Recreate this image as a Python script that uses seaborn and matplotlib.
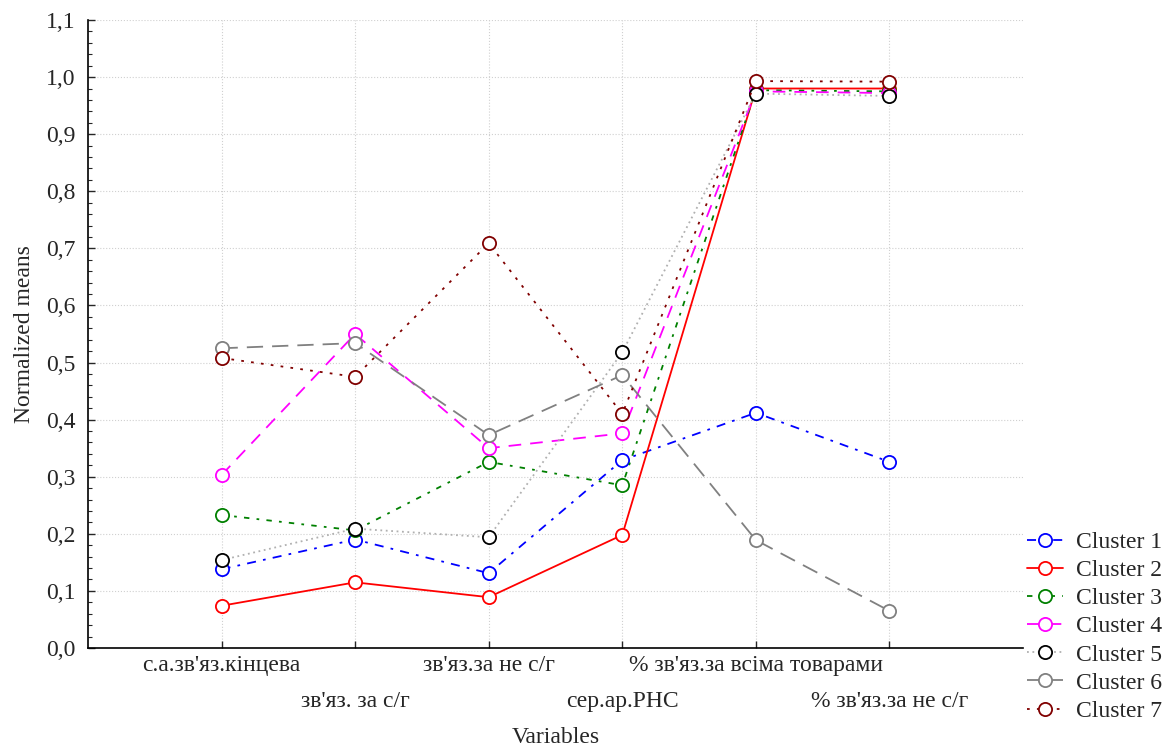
import matplotlib
matplotlib.use("Agg")
import matplotlib.pyplot as plt
from matplotlib.ticker import FuncFormatter, MultipleLocator
import seaborn as sns
import pandas as pd

variables = ["с.а.зв'яз.кінцева", "зв'яз. за с/г", "зв'яз.за не с/г",
             "сер.ар.РНС", "% зв'яз.за всіма товарами", "% зв'яз.за не с/г"]
clusters = ["Cluster 1", "Cluster 2", "Cluster 3", "Cluster 4",
            "Cluster 5", "Cluster 6", "Cluster 7"]
cluster1 = [0.138, 0.190, 0.131, 0.329, 0.412, 0.326]
cluster2 = [0.074, 0.115, 0.089, 0.198, 0.980, 0.980]
cluster3 = [0.233, 0.206, 0.326, 0.285, 0.977, 0.975]
cluster4 = [0.303, 0.550, 0.350, 0.376, 0.975, 0.972]
cluster5 = [0.154, 0.209, 0.194, 0.518, 0.971, 0.967]
cluster6 = [0.525, 0.534, 0.373, 0.478, 0.189, 0.065]
cluster7 = [0.508, 0.475, 0.709, 0.410, 0.993, 0.992]
values = [cluster1, cluster2, cluster3, cluster4, cluster5, cluster6, cluster7]

sns.set_theme(style="white")
plt.rcParams['font.family'] = ['Liberation Serif', 'DejaVu Serif']

line_colors = ["#0000ff", "#ff0000", "#008000", "#ff00ff", "#b0b0b0", "#808080", "#800000"]
edge_colors = ["#0000ff", "#ff0000", "#008000", "#ff00ff", "#000000", "#808080", "#800000"]
styles = [(0, (5, 4, 1.5, 4)), "-", (0, (3, 4, 1.5, 4)), (0, (7, 5)),
          (0, (1, 2)), (0, (9, 5)), (0, (1.5, 4))]

FS = 17

fig = plt.figure(figsize=(11.7, 7.51), dpi=100)
ax = fig.add_axes([88/1170, 1-648/751, (1023-88)/1170, (648-20)/751])

for name, vals, lc, ec, ls in zip(clusters, values, line_colors, edge_colors, styles):
    df = pd.DataFrame({"Variables": variables, "value": vals})
    sns.lineplot(data=df, x="Variables", y="value", sort=False, ax=ax,
                 color=lc, linestyle=ls, linewidth=1.3, marker="o",
                 markersize=9.5, markerfacecolor="white", markeredgecolor=ec,
                 markeredgewidth=1.3, label=name, zorder=3)

ax.set_xlim(-1, 6)
ax.set_ylim(0, 1.1)
# staggered labels: even positions on first row (major), odd on second row (minor)
ax.set_xticks(range(0, len(variables), 2))
ax.set_xticklabels(variables[0::2], fontsize=FS)
ax.set_xticks(range(1, len(variables), 2), minor=True)
ax.set_xticklabels(variables[1::2], minor=True, fontsize=FS)
ax.tick_params(axis="x", which="major", direction="in", length=5, width=1, bottom=True, pad=5)
ax.tick_params(axis="x", which="minor", direction="in", length=5, width=1, bottom=True, pad=31)

ax.yaxis.set_major_locator(MultipleLocator(0.1))
ax.yaxis.set_minor_locator(MultipleLocator(0.02))
ax.yaxis.set_major_formatter(FuncFormatter(lambda v, p: f"{v:.1f}".replace(".", ",")))
ax.tick_params(axis="y", which="major", direction="in", length=5, width=1, labelsize=FS, left=True, pad=9)
ax.tick_params(axis="y", which="minor", direction="in", length=3, width=0.8, left=True)
ax.xaxis.grid(True, which="both", linestyle=":", color="#d0d0d0", linewidth=0.8)
ax.yaxis.grid(True, which="major", linestyle=":", color="#d0d0d0", linewidth=0.8)
for s in ["top", "right"]:
    ax.spines[s].set_visible(False)
for s in ["left", "bottom"]:
    ax.spines[s].set_color("black")
    ax.spines[s].set_linewidth(1.2)

ax.set_xlabel("Variables", fontsize=FS, labelpad=11)
ax.set_ylabel("Normalized means", fontsize=FS, labelpad=8)

handles, labels = ax.get_legend_handles_labels()
ax.get_legend().remove()
fig.legend(handles, labels, loc="upper left", bbox_to_anchor=(1018/1170, 1-522/751),
           frameon=False, fontsize=FS, handlelength=1.5, labelspacing=0.28,
           handletextpad=0.55, borderaxespad=0)

fig.savefig("out.png", dpi=100)
